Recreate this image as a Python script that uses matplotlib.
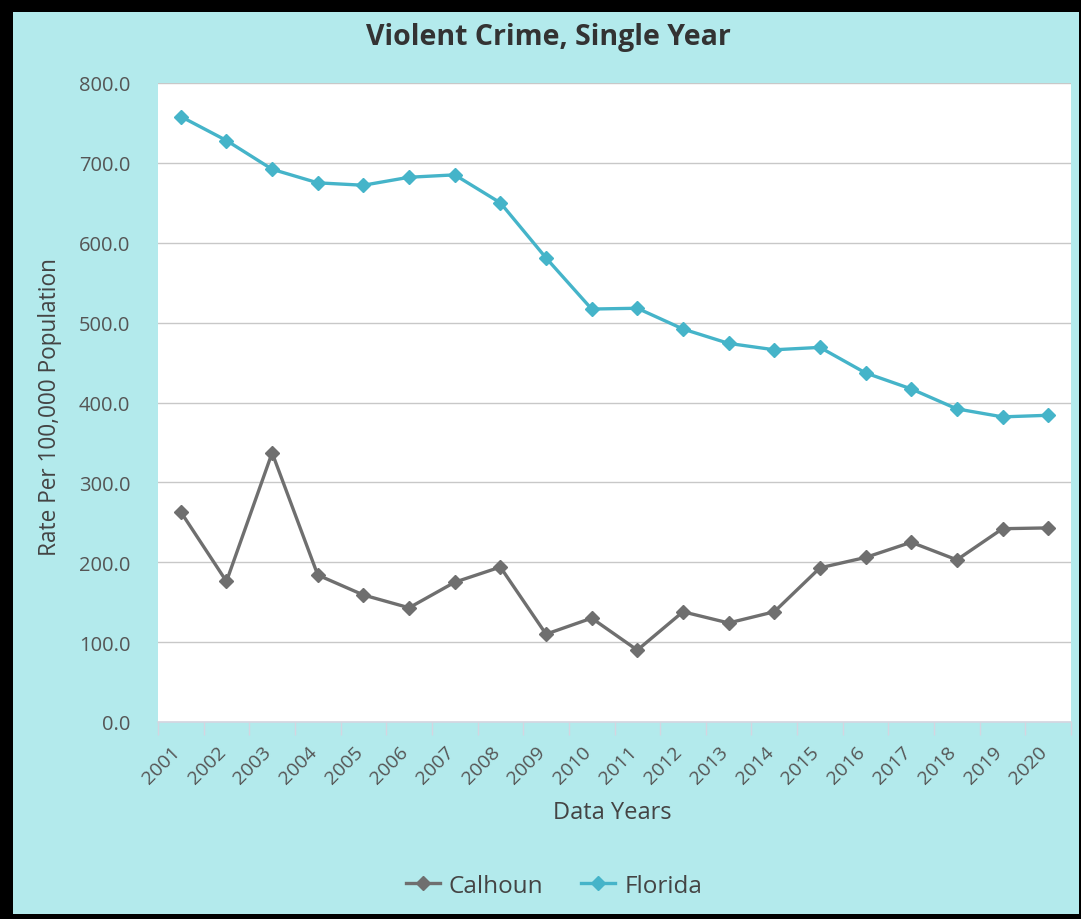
import matplotlib
matplotlib.use("Agg")
import matplotlib.pyplot as plt
from matplotlib.lines import Line2D
from matplotlib.patches import Rectangle
import numpy as np

years = [str(y) for y in range(2001, 2021)]
calhoun = [263, 176, 337, 184, 159, 143, 175, 194, 110, 130, 90, 138, 124, 138, 193, 206, 225, 203, 242, 243]
florida = [758, 728, 692, 675, 672, 682, 685, 650, 581, 517, 518, 492, 474, 466, 469, 437, 417, 392, 382, 384]
yticks = [0, 100, 200, 300, 400, 500, 600, 700, 800]

plt.rcParams['font.family'] = ['Open Sans', 'DejaVu Sans']

W, H = 1081, 920
fig = plt.figure(figsize=(W / 100, H / 100), dpi=100)
fig.patch.set_facecolor('black')
bg = '#b3eaec'
fig.patches.append(Rectangle((13 / W, 1 - 915 / H), (1079 - 13) / W, (915 - 13) / H,
                             transform=fig.transFigure, facecolor=bg, edgecolor='none', zorder=-10))

ax = fig.add_axes([158 / W, 1 - 723 / H, 913 / W, 639 / H])
ax.set_facecolor('white')

x = np.arange(len(years))
c_cal = '#6f6f6f'
c_fl = '#45b4c9'
ax.plot(x, calhoun, color=c_cal, lw=2.4, marker='D', ms=7, zorder=3)
ax.plot(x, florida, color=c_fl, lw=2.4, marker='D', ms=7, zorder=3)

ax.set_xlim(-0.5, len(years) - 0.5)
ax.set_ylim(0, 800)
ax.set_yticks(yticks)
ax.set_yticklabels([f"{v:.1f}" for v in yticks], color='#555555', fontsize=14.5)
ax.yaxis.grid(True, color='#c8c8c8', lw=1)
ax.set_axisbelow(True)
ax.tick_params(axis='y', length=0, pad=20)

ax.set_xticks(x)
ax.set_xticklabels(years, rotation=45, ha='right', va='baseline', rotation_mode='anchor',
                   color='#555555', fontsize=14)
ax.set_xticks(np.arange(-0.5, len(years), 1), minor=True)
ax.tick_params(axis='x', which='major', length=0, pad=22)
ax.tick_params(axis='x', which='minor', length=9, color='#d5d5e0', width=1)

for s in ['left', 'right', 'top']:
    ax.spines[s].set_visible(False)
ax.spines['bottom'].set_color('#d5d5e0')
ax.spines['bottom'].set_linewidth(1.2)

fig.text(548 / W, 1 - 38 / H, 'Violent Crime, Single Year', ha='center', va='center',
         fontsize=20.5, fontweight='bold', color='#333333')
fig.text(50 / W, 1 - 407 / H, 'Rate Per 100,000 Population', ha='center', va='center',
         rotation=90, fontsize=16.3, color='#444444')
fig.text(612 / W, 1 - 813 / H, 'Data Years', ha='center', va='center', fontsize=17, color='#444444')

handles = [Line2D([], [], color=c_cal, lw=2.4, marker='D', ms=7),
           Line2D([], [], color=c_fl, lw=2.4, marker='D', ms=7)]
fig.legend(handles, ['Calhoun', 'Florida'], loc='center', bbox_to_anchor=(554 / W, 1 - 887 / H),
           ncol=2, frameon=False, fontsize=17.5, labelcolor='#444444', handlelength=1.4,
           columnspacing=1.55, handletextpad=0.37)

fig.savefig('out.png', dpi=100, facecolor=fig.get_facecolor())
